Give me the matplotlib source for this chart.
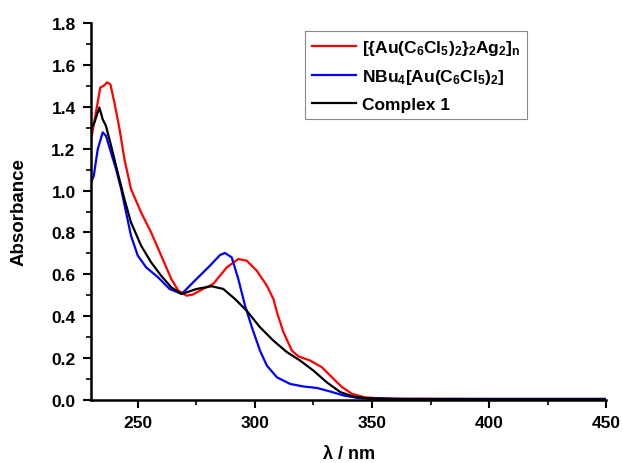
import matplotlib.pyplot as plt
from matplotlib.ticker import MultipleLocator

plt.rcParams['font.family'] = ['Liberation Sans', 'DejaVu Sans']
plt.rcParams['font.weight'] = 'bold'
plt.rcParams['mathtext.fontset'] = 'custom'
plt.rcParams['mathtext.rm'] = 'Liberation Sans:bold'
plt.rcParams['mathtext.default'] = 'rm'

# spectra (nm, absorbance)
red_x = [230, 232.1, 234, 235.4, 236.9, 238.3, 240, 242.2, 244.3, 247.1, 251.4, 255.7, 260, 264.3,
         267.3, 270.8, 273.5, 276.5, 282.2, 288, 292.9, 296.5, 300.8, 305.1, 307.9, 309.4, 312.2,
         315.8, 318.6, 323.6, 328.6, 332.9, 337.2, 341.5, 346.5, 352.2, 365, 400, 450]
red_y = [1.238, 1.373, 1.493, 1.50, 1.517, 1.508, 1.421, 1.294, 1.15, 1.007, 0.896, 0.80, 0.689, 0.578,
         0.522, 0.498, 0.503, 0.522, 0.554, 0.633, 0.673, 0.665, 0.617, 0.546, 0.482, 0.419, 0.323,
         0.235, 0.208, 0.188, 0.156, 0.108, 0.061, 0.029, 0.013, 0.008, 0.005, 0.004, 0.004]

blue_x = [230, 231.2, 232.9, 235, 236.4, 238.6, 240.7, 242.9, 245, 247.1, 250, 253.6, 258.6, 263.6,
          268.7, 275.1, 280.8, 285.1, 287.2, 290.1, 292.9, 295.8, 298.7, 302.2, 305.1, 309.4, 315.1,
          320.8, 326.5, 332.2, 337.9, 343.6, 349, 360, 400, 450]
blue_y = [1.039, 1.07, 1.198, 1.278, 1.262, 1.18, 1.103, 1.007, 0.896, 0.784, 0.689, 0.633, 0.586, 0.53,
          0.506, 0.578, 0.641, 0.692, 0.702, 0.681, 0.578, 0.45, 0.347, 0.235, 0.164, 0.108, 0.076,
          0.064, 0.057, 0.04, 0.021, 0.01, 0.006, 0.005, 0.005, 0.005]

black_x = [230, 231.5, 233.6, 235, 236.4, 238.6, 241.4, 244.3, 247.1, 251.4, 255.7, 260, 264.3, 268.7,
           275.1, 281.5, 286.5, 291.5, 296.5, 302.2, 307.9, 313.7, 319.3, 325, 330.7, 336.5, 342.2,
           347.9, 360, 400, 450]
black_y = [1.294, 1.326, 1.397, 1.341, 1.309, 1.214, 1.087, 0.959, 0.848, 0.737, 0.657, 0.593, 0.538, 0.506,
           0.53, 0.543, 0.53, 0.482, 0.426, 0.347, 0.283, 0.228, 0.188, 0.14, 0.084, 0.037, 0.016,
           0.008, 0.004, 0.003, 0.003]

labels = [r'[{Au(C$_6$Cl$_5$)$_2$}$_2$Ag$_2$]$_n$',
          r'NBu$_4$[Au(C$_6$Cl$_5$)$_2$]',
          'Complex 1']

fig = plt.figure(figsize=(6.23, 4.64), dpi=100)
ax = fig.add_axes([0.146, 0.136, 0.827, 0.812])

ax.plot(red_x, red_y, color='#ff0000', lw=1.6, label=labels[0])
ax.plot(blue_x, blue_y, color='#0000ff', lw=1.6, label=labels[1])
ax.plot(black_x, black_y, color='black', lw=1.6, label=labels[2])

ax.set_xlim(230, 450)
ax.set_ylim(0, 1.8)
ax.xaxis.set_major_locator(MultipleLocator(50))
ax.xaxis.set_minor_locator(MultipleLocator(25))
ax.yaxis.set_major_locator(MultipleLocator(0.2))
ax.yaxis.set_minor_locator(MultipleLocator(0.1))
ax.yaxis.set_major_formatter(plt.FormatStrFormatter('%.1f'))

for s in ['top', 'right']:
    ax.spines[s].set_visible(False)
for s in ['left', 'bottom']:
    ax.spines[s].set_linewidth(1.8)
ax.tick_params(which='major', direction='out', length=6, width=1.5, labelsize=12.5, pad=5)
ax.tick_params(which='minor', direction='out', length=3.5, width=1.2)
for t in ax.get_xticklabels() + ax.get_yticklabels():
    t.set_fontweight('bold')

ax.set_xlabel('λ / nm', fontsize=13, fontweight='bold', labelpad=11)
ax.set_ylabel('Absorbance', fontsize=13.5, fontweight='bold', labelpad=17)

leg = ax.legend(loc='upper right', bbox_to_anchor=(0.847, 0.979), borderaxespad=0,
                fontsize=12.5, handlelength=2.5, handletextpad=0.35, fancybox=False, framealpha=1,
                edgecolor='#888888', borderpad=0.4, labelspacing=0.6)
leg.get_frame().set_linewidth(0.8)
for t in leg.get_texts():
    t.set_fontweight('bold')

fig.savefig('out.png', dpi=100)
